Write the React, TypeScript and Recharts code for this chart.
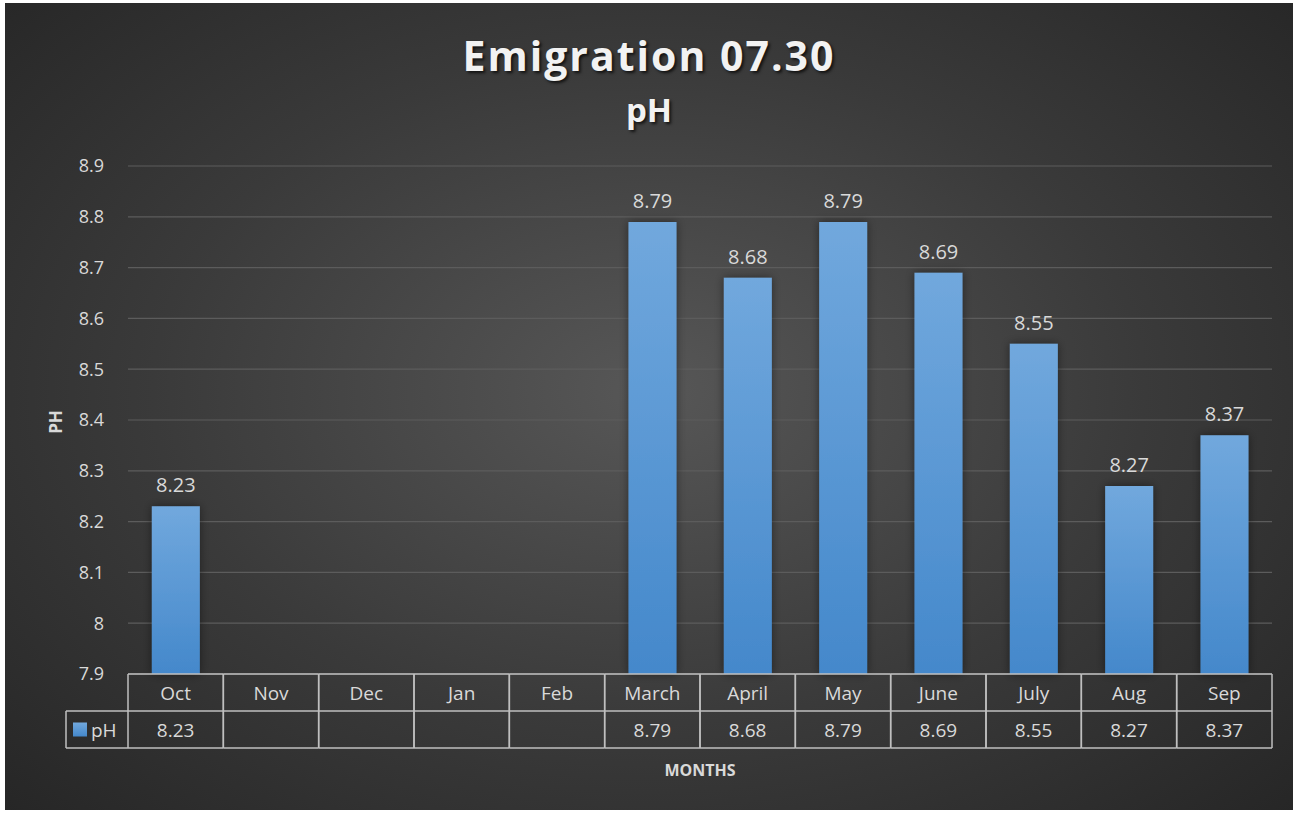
import { BarChart, Bar, XAxis, YAxis, CartesianGrid, LabelList } from "recharts";

// values
const months = ["Oct", "Nov", "Dec", "Jan", "Feb", "March", "April", "May", "June", "July", "Aug", "Sep"];
const phValues: (number | null)[] = [8.23, null, null, null, null, 8.79, 8.68, 8.79, 8.69, 8.55, 8.27, 8.37];
const yTicks = [7.9, 8.0, 8.1, 8.2, 8.3, 8.4, 8.5, 8.6, 8.7, 8.8, 8.9];

const data = months.map((m, i) => ({ month: m, pH: phValues[i] }));

const FONT = "'Open Sans', 'Noto Sans', sans-serif";
const TEXT = "#d9d9d9";
const TABLE_LINE = "#bfbfbf";
const ROW_H = 37;

const W = 1288;
const H = 807;
const M = { top: 163, right: 21, left: 63, bottom: 56 };
const Y_AXIS_W = 60;
const cellW = (W - M.left - Y_AXIS_W - M.right) / months.length;

// draws one column of the data table under the plot
const TableTick = (props: any) => {
  const { x, y, payload, index } = props;
  const left = x - cellW / 2;
  const right = x + cellW / 2;
  const v = phValues[index];
  return (
    <g>
      <line x1={left} y1={y} x2={right} y2={y} stroke={TABLE_LINE} strokeWidth={1.5} />
      <line x1={left} y1={y + ROW_H} x2={right} y2={y + ROW_H} stroke={TABLE_LINE} strokeWidth={1.5} />
      <line x1={left} y1={y + ROW_H * 2} x2={right} y2={y + ROW_H * 2} stroke={TABLE_LINE} strokeWidth={1.5} />
      <line x1={left} y1={y} x2={left} y2={y + ROW_H * 2} stroke={TABLE_LINE} strokeWidth={1.5} />
      <line x1={right} y1={y} x2={right} y2={y + ROW_H * 2} stroke={TABLE_LINE} strokeWidth={1.5} />
      <text x={x} y={y + ROW_H / 2 + 7} textAnchor="middle" fill={TEXT} fontSize={19} fontFamily={FONT}>
        {payload.value}
      </text>
      {v != null && (
        <text x={x} y={y + ROW_H * 1.5 + 7} textAnchor="middle" fill={TEXT} fontSize={19} fontFamily={FONT}>
          {v.toFixed(2)}
        </text>
      )}
      {index === 0 && (
        <g>
          <line x1={left - 62} y1={y + ROW_H} x2={left} y2={y + ROW_H} stroke={TABLE_LINE} strokeWidth={1.5} />
          <line x1={left - 62} y1={y + ROW_H * 2} x2={left} y2={y + ROW_H * 2} stroke={TABLE_LINE} strokeWidth={1.5} />
          <line x1={left - 62} y1={y + ROW_H} x2={left - 62} y2={y + ROW_H * 2} stroke={TABLE_LINE} strokeWidth={1.5} />
          <rect x={left - 55} y={y + ROW_H * 1.5 - 7} width={14} height={14} fill="url(#barFill)" />
          <text x={left - 37} y={y + ROW_H * 1.5 + 7} fill={TEXT} fontSize={19} fontFamily={FONT}>
            pH
          </text>
        </g>
      )}
    </g>
  );
};

export default function App() {
  return (
    <div
      style={{
        position: "absolute",
        left: 5,
        top: 3,
        width: W,
        height: H,
        background: "radial-gradient(ellipse 70% 75% at 50% 48%, #575757 0%, #3a3a3a 55%, #262626 100%)",
        fontFamily: FONT,
      }}
    >
      <div
        style={{
          position: "absolute",
          top: 24,
          width: "100%",
          textAlign: "center",
          color: "#f2f2f2",
          fontSize: 41,
          fontWeight: 700,
          letterSpacing: 2,
          textShadow: "2px 2px 3px rgba(0,0,0,0.7)",
        }}
      >
        Emigration 07.30
      </div>
      <div
        style={{
          position: "absolute",
          top: 84,
          width: "100%",
          textAlign: "center",
          color: "#f2f2f2",
          fontSize: 33,
          fontWeight: 700,
          textShadow: "2px 2px 3px rgba(0,0,0,0.7)",
        }}
      >
        pH
      </div>
      <div
        style={{
          position: "absolute",
          left: 50,
          top: 419,
          transform: "translate(-50%, -50%) rotate(-90deg)",
          color: TEXT,
          fontSize: 17,
          fontWeight: 700,
        }}
      >
        PH
      </div>
      <div
        style={{
          position: "absolute",
          left: 695,
          top: 767,
          transform: "translate(-50%, -50%)",
          color: TEXT,
          fontSize: 16,
          fontWeight: 700,
        }}
      >
        MONTHS
      </div>
      <BarChart width={W} height={H} data={data} margin={M} barCategoryGap="25%" style={{ position: "absolute", left: 0, top: 0 }}>
        <defs>
          <linearGradient id="barFill" x1="0" y1="0" x2="0" y2="1">
            <stop offset="0%" stopColor="#71a8dd" />
            <stop offset="100%" stopColor="#4488cb" />
          </linearGradient>
          <filter id="barShadow" x="-30%" y="-10%" width="160%" height="120%">
            <feDropShadow dx="0" dy="0" stdDeviation="5" floodColor="#000" floodOpacity="0.45" />
          </filter>
        </defs>
        <CartesianGrid vertical={false} stroke="#5c5c5c" strokeWidth={1.2} />
        <XAxis
          dataKey="month"
          axisLine={false}
          tickLine={false}
          tickSize={0}
          tickMargin={0}
          height={80}
          interval={0}
          tick={<TableTick />}
        />
        <YAxis
          domain={[7.9, 8.9]}
          ticks={yTicks}
          width={Y_AXIS_W}
          axisLine={false}
          tickLine={false}
          tickFormatter={(v: number) => String(parseFloat(v.toFixed(1)))}
          tick={{ fill: TEXT, fontSize: 18, fontFamily: FONT }}
          tickMargin={18}
        />
        <Bar dataKey="pH" fill="url(#barFill)" filter="url(#barShadow)" isAnimationActive={false}>
          <LabelList
            dataKey="pH"
            position="top"
            offset={14}
            fill={TEXT}
            fontSize={20}
            fontFamily={FONT}
            formatter={(v: any) => (v == null ? "" : Number(v).toFixed(2))}
          />
        </Bar>
      </BarChart>
    </div>
  );
}
